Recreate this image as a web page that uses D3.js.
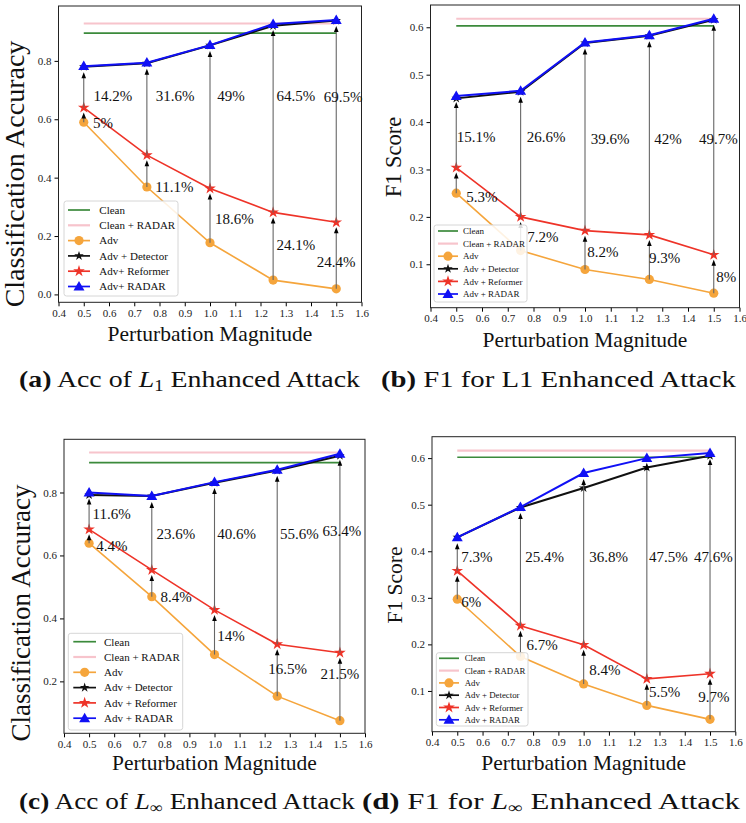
<!DOCTYPE html>
<meta charset="utf-8">
<script src="https://d3js.org/d3.v7.min.js"></script>
<style>
  body { margin: 0; background: #fff; }
  text { font-family: "Liberation Serif", "Times New Roman", serif; }
</style>
<body>
<div id="my_dataviz"></div>
<script>
// perturbation magnitudes on the x axis
var magnitudes = [0.5, 0.75, 1.0, 1.25, 1.5];
var xTicks = [0.4, 0.5, 0.6, 0.7, 0.8, 0.9, 1.0, 1.1, 1.2, 1.3, 1.4, 1.5, 1.6];
var seriesNames = ["Clean", "Clean + RADAR", "Adv", "Adv + Detector", "Adv + Reformer", "Adv + RADAR"];
var seriesNamesA = ["Clean", "Clean + RADAR", "Adv", "Adv + Detector", "Adv+ Reformer", "Adv+ RADAR"];

// (a) accuracy, L1 enhanced attack
var accL1Clean = 0.895, accL1CleanRadar = 0.928;
var accL1Adv = [0.590, 0.368, 0.177, 0.049, 0.019];
var accL1Detector = [0.780, 0.792, 0.853, 0.920, 0.938];
var accL1Reformer = [0.640, 0.477, 0.363, 0.281, 0.247];
var accL1Radar = [0.782, 0.794, 0.854, 0.926, 0.940];
var accL1RadarGain = ["14.2%", "31.6%", "49%", "64.5%", "69.5%"];
var accL1ReformerGain = ["5%", "11.1%", "18.6%", "24.1%", "24.4%"];
var accL1Ticks = [0.0, 0.2, 0.4, 0.6, 0.8];

// (b) F1, L1 enhanced attack
var f1L1Clean = 0.603, f1L1CleanRadar = 0.618;
var f1L1Adv = [0.250, 0.129, 0.089, 0.068, 0.039];
var f1L1Detector = [0.450, 0.464, 0.567, 0.582, 0.616];
var f1L1Reformer = [0.304, 0.200, 0.171, 0.162, 0.120];
var f1L1Radar = [0.455, 0.466, 0.568, 0.583, 0.618];
var f1L1RadarGain = ["15.1%", "26.6%", "39.6%", "42%", "49.7%"];
var f1L1ReformerGain = ["5.3%", "7.2%", "8.2%", "9.3%", "8%"];
var f1L1Ticks = [0.1, 0.2, 0.3, 0.4, 0.5, 0.6];

// (c) accuracy, L-inf enhanced attack
var accLinfClean = 0.895, accLinfCleanRadar = 0.927;
var accLinfAdv = [0.639, 0.469, 0.285, 0.153, 0.075];
var accLinfDetector = [0.792, 0.789, 0.831, 0.870, 0.917];
var accLinfReformer = [0.683, 0.554, 0.427, 0.318, 0.291];
var accLinfRadar = [0.800, 0.789, 0.833, 0.872, 0.923];
var accLinfRadarGain = ["11.6%", "23.6%", "40.6%", "55.6%", "63.4%"];
var accLinfReformerGain = ["4.4%", "8.4%", "14%", "16.5%", "21.5%"];
var accLinfTicks = [0.2, 0.4, 0.6, 0.8];

// (d) F1, L-inf enhanced attack
var f1LinfClean = 0.602, f1LinfCleanRadar = 0.616;
var f1LinfAdv = [0.297, 0.174, 0.115, 0.069, 0.039];
var f1LinfDetector = [0.430, 0.494, 0.536, 0.580, 0.605];
var f1LinfReformer = [0.358, 0.240, 0.199, 0.126, 0.137];
var f1LinfRadar = [0.430, 0.495, 0.568, 0.600, 0.611];
var f1LinfRadarGain = ["7.3%", "25.4%", "36.8%", "47.5%", "47.6%"];
var f1LinfReformerGain = ["6%", "6.7%", "8.4%", "5.5%", "9.7%"];
var f1LinfTicks = [0.1, 0.2, 0.3, 0.4, 0.5, 0.6];

var colors = { clean: "#3b8a3b", cleanRadar: "#f7c4cc", adv: "#f5a53c", det: "#111", ref: "#ee3328", radar: "#1010f5" };

var svg = d3.select("#my_dataviz")
  .append("svg")
    .attr("width", 746)
    .attr("height", 823);

// layout of each panel (pixels) and where the gain labels sit (data units)
var panels = [
  { left: 58.5, right: 361.5, top: 6, bottom: 302.3, yDomain: [-0.027, 0.988], yTicks: accL1Ticks,
    clean: accL1Clean, cleanRadar: accL1CleanRadar, adv: accL1Adv, det: accL1Detector, ref: accL1Reformer, radar: accL1Radar,
    upText: accL1RadarGain, lowText: accL1ReformerGain, names: seriesNamesA,
    upX: [0.539, 0.785, 1.029, 1.263, 1.45], upY: [0.664, 0.664, 0.664, 0.664, 0.66],
    lowX: [0.537, 0.783, 1.02, 1.263, 1.423], lowY: [0.569, 0.352, 0.241, 0.152, 0.095],
    ylabel: "Classification Accuracy", ylabelX: 24, ylabelY: 174, ylabelSize: 28,
    xlabelY: 341, legend: { x: 64, y: 201, w: 114, h: 95, row: 15.3, fs: 11, l0: 68, l1: 90, tx: 99.3, first: 210 } },
  { left: 430.5, right: 739.5, top: 5, bottom: 307.7, yDomain: [0.0084, 0.647], yTicks: f1L1Ticks,
    clean: f1L1Clean, cleanRadar: f1L1CleanRadar, adv: f1L1Adv, det: f1L1Detector, ref: f1L1Reformer, radar: f1L1Radar,
    upText: f1L1RadarGain, lowText: f1L1ReformerGain, names: seriesNames,
    upX: [0.502, 0.774, 1.022, 1.269, 1.443], upY: [0.357, 0.357, 0.354, 0.354, 0.354],
    lowX: [0.539, 0.776, 1.009, 1.249, 1.51], lowY: [0.232, 0.148, 0.116, 0.102, 0.063],
    ylabel: "F1 Score", ylabelX: 401, ylabelY: 157, ylabelSize: 22.5,
    xlabelY: 347, legend: { x: 434, y: 225, w: 93, h: 77, row: 12.6, fs: 9, l0: 438, l1: 458, tx: 463, first: 231 } },
  { left: 64, right: 365, top: 439.3, bottom: 733.3, yDomain: [0.035, 0.969], yTicks: accLinfTicks,
    clean: accLinfClean, cleanRadar: accLinfCleanRadar, adv: accLinfAdv, det: accLinfDetector, ref: accLinfReformer, radar: accLinfRadar,
    upText: accLinfRadarGain, lowText: accLinfReformerGain, names: seriesNames,
    upX: [0.514, 0.769, 1.011, 1.261, 1.431], upY: [0.715, 0.651, 0.651, 0.651, 0.662],
    lowX: [0.529, 0.785, 1.011, 1.214, 1.423], lowY: [0.614, 0.453, 0.329, 0.223, 0.206],
    ylabel: "Classification Accuracy", ylabelX: 29.5, ylabelY: 613, ylabelSize: 27,
    xlabelY: 770, legend: { x: 68.3, y: 633.3, w: 114.4, h: 96.7, row: 15.3, fs: 11, l0: 73.3, l1: 96, tx: 104, first: 641.7 } },
  { left: 432, right: 735.3, top: 436.7, bottom: 731.7, yDomain: [0.0125, 0.646], yTicks: f1LinfTicks,
    clean: f1LinfClean, cleanRadar: f1LinfCleanRadar, adv: f1LinfAdv, det: f1LinfDetector, ref: f1LinfReformer, radar: f1LinfRadar,
    upText: f1LinfRadarGain, lowText: f1LinfReformerGain, names: seriesNames,
    upX: [0.516, 0.769, 1.022, 1.259, 1.437], upY: [0.376, 0.376, 0.376, 0.376, 0.376],
    lowX: [0.516, 0.774, 1.022, 1.259, 1.453], lowY: [0.281, 0.188, 0.134, 0.086, 0.077],
    ylabel: "F1 Score", ylabelX: 402, ylabelY: 585, ylabelSize: 21.5,
    xlabelY: 770, legend: { x: 436.3, y: 652.7, w: 91.7, h: 73.3, row: 12.3, fs: 8.8, l0: 439, l1: 459, tx: 464.7, first: 658.3 } }
];

var star = d3.symbol().type(d3.symbolStar);
var tri = d3.symbol().type(d3.symbolTriangle);

function drawMarker(g, kind, cx, cy) {
  if (kind == "adv") {
    g.append("circle").attr("cx", cx).attr("cy", cy).attr("r", 4.6).attr("fill", colors.adv);
  } else if (kind == "det") {
    g.append("path").attr("d", star.size(28)()).attr("transform", "translate(" + cx + "," + cy + ")").attr("fill", colors.det);
  } else if (kind == "ref") {
    g.append("path").attr("d", star.size(42)()).attr("transform", "translate(" + cx + "," + cy + ")").attr("fill", colors.ref);
  } else if (kind == "radar") {
    g.append("path").attr("d", tri.size(52)()).attr("transform", "translate(" + cx + "," + (cy + 0.8) + ")").attr("fill", colors.radar);
  }
}

function arrow(g, x0, y0, y1) {
  g.append("line")
    .attr("x1", x0).attr("x2", x0)
    .attr("y1", y0).attr("y2", y1 + 3)
    .attr("stroke", "#666").attr("stroke-width", 1.1);
  g.append("path")
    .attr("d", "M" + x0 + "," + y1 + "L" + (x0 - 2.3) + "," + (y1 + 6) + "L" + (x0 + 2.3) + "," + (y1 + 6) + "Z")
    .attr("fill", "#000");
}

panels.forEach(function(p) {
  var x = d3.scaleLinear().domain([0.4, 1.6]).range([p.left, p.right]);
  var y = d3.scaleLinear().domain(p.yDomain).range([p.bottom, p.top]);
  var g = svg.append("g");

  // axes
  g.append("g")
    .attr("transform", "translate(0," + p.bottom + ")")
    .call(d3.axisBottom(x).tickValues(xTicks).tickFormat(d3.format(".1f")).tickSize(4).tickPadding(3))
    .call(function(a) { a.select(".domain").remove(); a.selectAll("text").style("font-size", "11px").attr("fill", "#222"); });
  g.append("g")
    .attr("transform", "translate(" + p.left + ",0)")
    .call(d3.axisLeft(y).tickValues(p.yTicks).tickFormat(d3.format(".1f")).tickSize(4).tickPadding(3))
    .call(function(a) { a.select(".domain").remove(); a.selectAll("text").style("font-size", "11px").attr("fill", "#222"); });
  g.append("rect")
    .attr("x", p.left).attr("y", p.top)
    .attr("width", p.right - p.left).attr("height", p.bottom - p.top)
    .attr("fill", "none").attr("stroke", "#222").attr("stroke-width", 1);

  // reference lines
  g.append("line").attr("x1", x(magnitudes[0])).attr("x2", x(magnitudes[4]))
    .attr("y1", y(p.cleanRadar)).attr("y2", y(p.cleanRadar))
    .attr("stroke", colors.cleanRadar).attr("stroke-width", 2.2);
  g.append("line").attr("x1", x(magnitudes[0])).attr("x2", x(magnitudes[4]))
    .attr("y1", y(p.clean)).attr("y2", y(p.clean))
    .attr("stroke", colors.clean).attr("stroke-width", 1.6);

  var line = d3.line().x(function(d, i) { return x(magnitudes[i]); }).y(function(d) { return y(d); });
  [["adv", 1.6], ["det", 2], ["ref", 1.6], ["radar", 2]].forEach(function(s) {
    g.append("path").datum(p[s[0]])
      .attr("fill", "none").attr("stroke", colors[s[0]]).attr("stroke-width", s[1])
      .attr("d", line);
    p[s[0]].forEach(function(v, i) { drawMarker(g, s[0], x(magnitudes[i]), y(v)); });
  });

  // gain arrows and labels
  magnitudes.forEach(function(m, i) {
    arrow(g, x(m), y(p.adv[i]), y(p.ref[i]) + 5);
    arrow(g, x(m), y(p.ref[i]), y(p.radar[i]) + 6);
    g.append("text").attr("x", x(p.upX[i])).attr("y", y(p.upY[i]))
      .style("font-size", "15px").attr("fill", "#111").text(p.upText[i]);
    g.append("text").attr("x", x(p.lowX[i])).attr("y", y(p.lowY[i]))
      .style("font-size", "15px").attr("fill", "#111").text(p.lowText[i]);
  });

  // legend
  var L = p.legend;
  g.append("rect").attr("x", L.x).attr("y", L.y).attr("width", L.w).attr("height", L.h)
    .attr("rx", 2.5).attr("fill", "#fff").attr("fill-opacity", 0.85).attr("stroke", "#d6d6d6");
  var kinds = ["clean", "cleanRadar", "adv", "det", "ref", "radar"];
  kinds.forEach(function(k, i) {
    var ly = L.first + i * L.row;
    g.append("line").attr("x1", L.l0).attr("x2", L.l1).attr("y1", ly).attr("y2", ly)
      .attr("stroke", colors[k]).attr("stroke-width", k == "cleanRadar" ? 2.2 : 1.7);
    drawMarker(g, k, (L.l0 + L.l1) / 2, ly);
    g.append("text").attr("x", L.tx).attr("y", ly).attr("dy", "0.35em")
      .style("font-size", L.fs + "px").attr("fill", "#111").text(p.names[i]);
  });

  // axis titles
  g.append("text")
    .attr("transform", "translate(" + p.ylabelX + "," + p.ylabelY + ") rotate(-90)")
    .attr("text-anchor", "middle").style("font-size", p.ylabelSize + "px").attr("fill", "#111")
    .text(p.ylabel);
  g.append("text")
    .attr("x", (p.left + p.right) / 2).attr("y", p.xlabelY)
    .attr("text-anchor", "middle").style("font-size", "21.5px").attr("fill", "#111")
    .text("Perturbation Magnitude");
});

// captions under each panel
var captions = [
  { x: 19, y: 387, w: 341, tag: "(a)", pre: " Acc of ", sub: "1", post: " Enhanced Attack", math: true },
  { x: 381, y: 387, w: 355, tag: "(b)", pre: " F1 for L1 Enhanced Attack", math: false },
  { x: 19, y: 809, w: 336, tag: "(c)", pre: " Acc of ", sub: "\u221E", post: " Enhanced Attack", math: true },
  { x: 362, y: 809, w: 378, tag: "(d)", pre: " F1 for ", sub: "\u221E", post: " Enhanced Attack", math: true }
];
captions.forEach(function(c) {
  var t = svg.append("text").attr("x", c.x).attr("y", c.y)
    .attr("textLength", c.w).attr("lengthAdjust", "spacingAndGlyphs")
    .style("font-size", "24px").attr("fill", "#111");
  t.append("tspan").style("font-weight", "bold").text(c.tag);
  t.append("tspan").text(c.pre);
  if (c.math) {
    t.append("tspan").style("font-style", "italic").text("L");
    t.append("tspan").attr("dy", 4).style("font-size", "16px").text(c.sub);
    t.append("tspan").attr("dy", -4).text(c.post);
  }
});
</script>
</body>
